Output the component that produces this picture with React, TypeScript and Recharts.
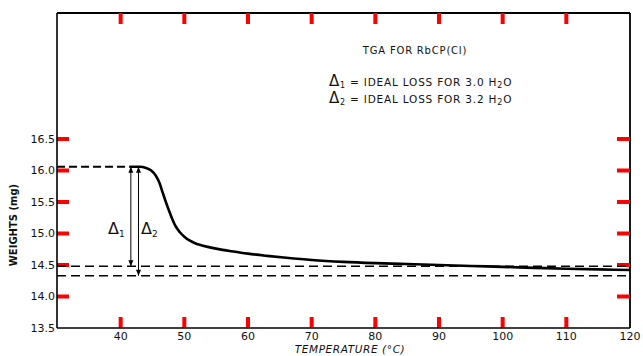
import React from "react";
import { LineChart, Line, XAxis, YAxis, ReferenceLine } from "recharts";

const temps = [41.5, 43.0, 44.0, 44.8, 45.5, 46.1, 46.6, 47.1, 47.6, 48.1, 48.6, 49.3, 50.0, 50.8, 51.6, 52.4, 54, 56, 58, 60, 63, 66, 70, 75, 80, 85, 90, 95, 100, 105, 110, 115, 120];
const weights = [16.06, 16.06, 16.04, 16.0, 15.92, 15.8, 15.65, 15.5, 15.36, 15.23, 15.12, 15.02, 14.95, 14.89, 14.85, 14.82, 14.78, 14.74, 14.71, 14.68, 14.645, 14.615, 14.58, 14.55, 14.53, 14.515, 14.5, 14.485, 14.47, 14.455, 14.44, 14.43, 14.42];

const initialWeight = 16.06;
const ideal1 = 14.48;
const ideal2 = 14.33;
const arrow1T = 41.6;
const arrow2T = 42.8;

const xDomain = [30, 120];
const yDomain = [13.5, 18.5];
const xTicks = [40, 50, 60, 70, 80, 90, 100, 110, 120];
const xInnerTicks = [40, 50, 60, 70, 80, 90, 100, 110];
const yTicks = [13.5, 14.0, 14.5, 15.0, 15.5, 16.0, 16.5];
const yInnerTicks = [14.0, 14.5, 15.0, 15.5, 16.0, 16.5];

const curve = temps.map((t, i) => ({ t, w: weights[i] }));
const arrow1 = [{ t: arrow1T, w: initialWeight }, { t: arrow1T, w: ideal1 }];
const arrow2 = [{ t: arrow2T, w: initialWeight }, { t: arrow2T, w: ideal2 }];

const INK = "#000";
const FONT = "DejaVu Sans, sans-serif";
const W = 643;
const H = 356;
const MARGIN = { top: 13, right: 13, left: 0, bottom: 0 };
const X_AXIS_H = 28;
const Y_AXIS_W = 57;
const PLOT_W = W - MARGIN.left - MARGIN.right - Y_AXIS_W;
const PLOT_H = H - MARGIN.top - MARGIN.bottom - X_AXIS_H;
const VT = (11 * (yDomain[1] - yDomain[0])) / PLOT_H;
const HT_L = (12 * (xDomain[1] - xDomain[0])) / PLOT_W;
const HT_R = (13 * (xDomain[1] - xDomain[0])) / PLOT_W;

const ArrowDot = (props: any) => {
  const { cx, cy, index } = props;
  if (cx == null || cy == null) return <g key={index} />;
  const d =
    index === 0
      ? `M${cx},${cy} L${cx - 2.5},${cy + 6} L${cx + 2.5},${cy + 6} Z`
      : `M${cx},${cy} L${cx - 2.5},${cy - 6} L${cx + 2.5},${cy - 6} Z`;
  return <path key={index} d={d} fill={INK} />;
};

const tickStyle = { stroke: "red", strokeWidth: 4, ifOverflow: "visible" as const };

export default function App() {
  return (
    <div style={{ position: "absolute", left: 0, top: 0, width: W, height: H, background: "#fff" }}>
      <LineChart width={W} height={H} margin={MARGIN}>
        <XAxis
          dataKey="t"
          type="number"
          domain={xDomain}
          ticks={xTicks}
          allowDataOverflow
          height={X_AXIS_H}
          axisLine={{ stroke: INK, strokeWidth: 1.6 }}
          tickLine={false}
          tickSize={0}
          tickMargin={4}
          tick={{ fill: "#111", fontSize: 11, fontFamily: FONT }}
        />
        <YAxis
          type="number"
          domain={yDomain}
          ticks={yTicks}
          allowDataOverflow
          width={Y_AXIS_W}
          axisLine={{ stroke: INK, strokeWidth: 1.6 }}
          tickLine={false}
          tickSize={0}
          tickMargin={2}
          tickFormatter={(v: number) => v.toFixed(1)}
          tick={{ fill: "#111", fontSize: 11, fontFamily: FONT }}
        />
        <ReferenceLine y={yDomain[1]} stroke={INK} strokeWidth={2} />
        <ReferenceLine x={xDomain[1]} stroke={INK} strokeWidth={1.8} />
        {xInnerTicks.map((t) => (
          <ReferenceLine key={"xb" + t} segment={[{ x: t, y: yDomain[0] }, { x: t, y: yDomain[0] + VT }]} {...tickStyle} />
        ))}
        {xInnerTicks.map((t) => (
          <ReferenceLine key={"xt" + t} segment={[{ x: t, y: yDomain[1] }, { x: t, y: yDomain[1] - VT }]} {...tickStyle} />
        ))}
        {yInnerTicks.map((v) => (
          <ReferenceLine key={"yl" + v} segment={[{ x: xDomain[0], y: v }, { x: xDomain[0] + HT_L, y: v }]} {...tickStyle} />
        ))}
        {yInnerTicks.map((v) => (
          <ReferenceLine key={"yr" + v} segment={[{ x: xDomain[1], y: v }, { x: xDomain[1] - HT_R, y: v }]} {...tickStyle} />
        ))}
        <ReferenceLine
          segment={[{ x: xDomain[0], y: initialWeight }, { x: arrow1T, y: initialWeight }]}
          stroke={INK}
          strokeWidth={2}
          strokeDasharray="8 4"
        />
        <ReferenceLine y={ideal1} stroke={INK} strokeWidth={1.5} strokeDasharray="9 5" />
        <ReferenceLine y={ideal2} stroke={INK} strokeWidth={1.5} strokeDasharray="9 5" />
        <Line data={arrow1} dataKey="w" stroke={INK} strokeWidth={1} dot={ArrowDot} activeDot={false} isAnimationActive={false} />
        <Line data={arrow2} dataKey="w" stroke={INK} strokeWidth={1} dot={ArrowDot} activeDot={false} isAnimationActive={false} />
        <Line data={curve} dataKey="w" type="monotone" stroke={INK} strokeWidth={2.6} dot={false} activeDot={false} isAnimationActive={false} />
      </LineChart>
      <svg width={W} height={H} style={{ position: "absolute", left: 0, top: 0, pointerEvents: "none" }} fontFamily={FONT} fill="#111">
        <text x={415} y={54} textAnchor="middle" fontSize={10} letterSpacing={0.8}>TGA FOR RbCP(Cl)</text>
        <text x={329} y={86} fontSize={10.5} letterSpacing={0.8}>
          <tspan fontSize={15}>Δ</tspan>
          <tspan fontSize={8} dy={2}>1</tspan>
          <tspan dy={-2}>{"  = IDEAL LOSS FOR 3.0 H"}</tspan>
          <tspan fontSize={8} dy={2}>2</tspan>
          <tspan dy={-2}>O</tspan>
        </text>
        <text x={329} y={103} fontSize={10.5} letterSpacing={0.8}>
          <tspan fontSize={15}>Δ</tspan>
          <tspan fontSize={8} dy={2}>2</tspan>
          <tspan dy={-2}>{"  = IDEAL LOSS FOR 3.2 H"}</tspan>
          <tspan fontSize={8} dy={2}>2</tspan>
          <tspan dy={-2}>O</tspan>
        </text>
        <text x={108} y={234} fontSize={16}><tspan>Δ</tspan><tspan fontSize={9} dy={3}>1</tspan></text>
        <text x={141} y={234} fontSize={16}><tspan>Δ</tspan><tspan fontSize={9} dy={3}>2</tspan></text>
        <text x={14} y={225} transform="rotate(-90 14 225)" textAnchor="middle" dominantBaseline="middle" fontSize={10} fontWeight="bold">WEIGHTS (mg)</text>
        <text x={350} y={353} textAnchor="middle" fontSize={10.5} fontStyle="italic" letterSpacing={0.6}>TEMPERATURE (°C)</text>
      </svg>
    </div>
  );
}
